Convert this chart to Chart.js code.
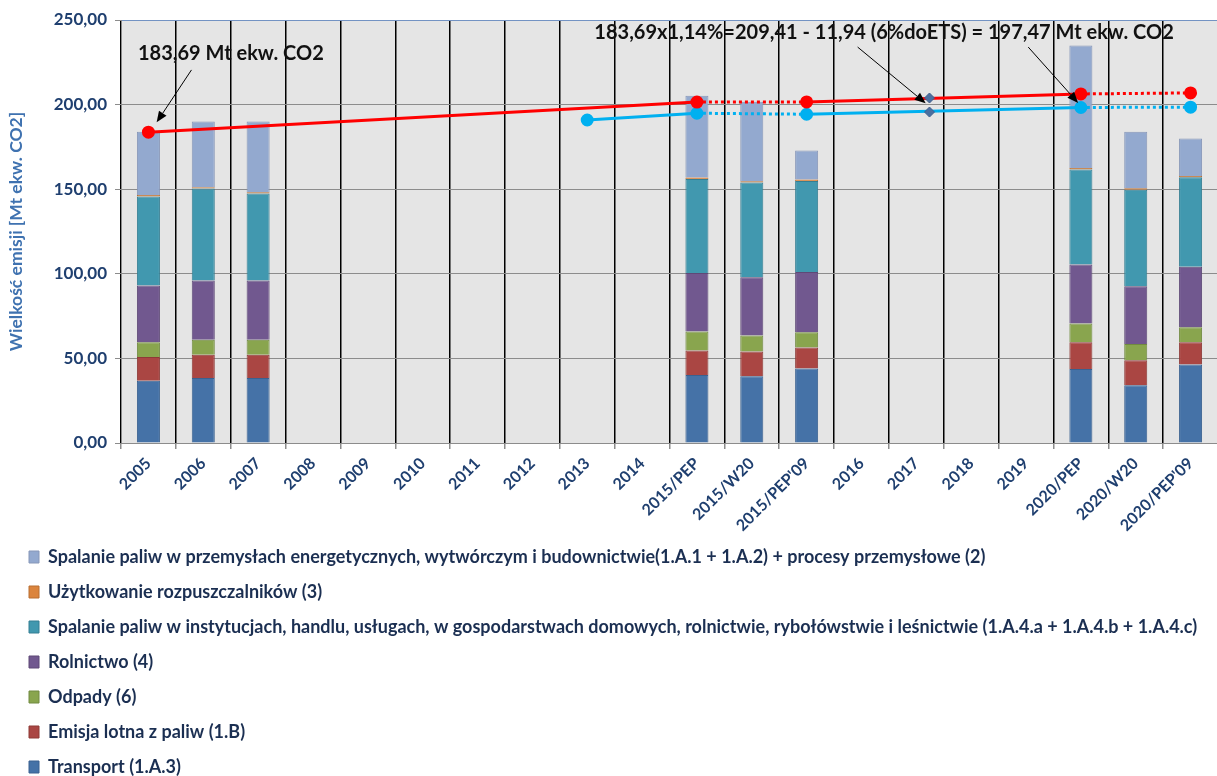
<!DOCTYPE html>
<html><head><meta charset="utf-8">
<script src="https://cdn.jsdelivr.net/npm/chart.js@4.4.1/dist/chart.umd.min.js"></script>
<style>
html,body{margin:0;padding:0;background:#fff;overflow:hidden;}
#wrap{position:relative;width:1217px;height:776px;overflow:hidden;}
#c1{position:absolute;left:0;top:0;}
#c2{position:absolute;left:12px;top:531px;}
</style></head><body>
<div id="wrap">
<canvas id="c1" width="1226" height="776"></canvas>
<canvas id="c2" width="2400" height="270"></canvas>
</div>
<script>
// ---- data ----
const categories = ['2005','2006','2007','2008','2009','2010','2011','2012','2013','2014',
  '2015/PEP','2015/W20',"2015/PEP'09",'2016','2017','2018','2019','2020/PEP','2020/W20',"2020/PEP'09"];
const transport = [36.8, 38.4, 38.4, null,null,null,null,null,null,null, 40.2, 39.4, 44.1, null,null,null,null, 43.8, 34.2, 46.4];
const emisjaLotna = [14.0, 13.8, 13.8, null,null,null,null,null,null,null, 14.5, 14.7, 12.4, null,null,null,null, 15.7, 14.7, 13.1];
const odpady = [8.8, 8.8, 8.8, null,null,null,null,null,null,null, 11.2, 9.5, 8.9, null,null,null,null, 11.2, 9.6, 8.9];
const rolnictwo = [33.5, 35.1, 35.1, null,null,null,null,null,null,null, 34.5, 34.4, 35.6, null,null,null,null, 34.8, 34.2, 35.7];
const spalanieInstytucje = [52.6, 54.3, 51.3, null,null,null,null,null,null,null, 55.7, 55.9, 53.9, null,null,null,null, 56.2, 57.0, 52.9];
const rozpuszczalniki = [0.8, 0.8, 0.8, null,null,null,null,null,null,null, 0.8, 0.8, 0.8, null,null,null,null, 0.8, 0.8, 0.8];
const spalanieEnergetyka = [37.5, 38.8, 41.8, null,null,null,null,null,null,null, 48.4, 47.0, 17.1, null,null,null,null, 72.5, 33.4, 22.2];
const limitRed = [183.69, null,null,null,null,null,null,null,null,null, 201.5, null, 201.6, null,null,null,null, 206.3, null, 206.9];
const limitBlue = [null,null,null,null,null,null,null,null, 190.9, null, 194.9, null, 194.3, null,null,null,null, 198.3, null, 198.5];
const marker2017Pos = 14.24;            // position on category index axis
const marker2017Vals = [203.9, 195.6];
const yTicks = [0, 50, 100, 150, 200, 250];

// ---- styling ----
const F = "Lato, 'Open Sans', sans-serif";
const layers = [
  {label:'Transport (1.A.3)', data:transport, color:'#4572a7', border:'#3a6190'},
  {label:'Emisja lotna z paliw (1.B)', data:emisjaLotna, color:'#aa4643', border:'#8e3a37'},
  {label:'Odpady (6)', data:odpady, color:'#89a54e', border:'#718a40'},
  {label:'Rolnictwo (4)', data:rolnictwo, color:'#71588f', border:'#5e4977'},
  {label:'Spalanie paliw w instytucjach, handlu, usługach, w gospodarstwach domowych, rolnictwie, rybołówstwie i leśnictwie (1.A.4.a + 1.A.4.b + 1.A.4.c)', data:spalanieInstytucje, color:'#4198af', border:'#357f93'},
  {label:'Użytkowanie rozpuszczalników (3)', data:rozpuszczalniki, color:'#db843d', border:'#b86e32'},
  {label:'Spalanie paliw w przemysłach energetycznych, wytwórczym i budownictwie(1.A.1 + 1.A.2) + procesy przemysłowe (2)', data:spalanieEnergetyka, color:'#93a9cf', border:'#8797b8'}
];
const fmt = v => v.toFixed(2).replace('.', ',');
const yearOf = i => categories[i].slice(0, 4);
const dottedWithinYear = { borderDash: ctx => yearOf(ctx.p0DataIndex) === yearOf(ctx.p1DataIndex) ? [3, 3] : undefined };

const notes = [
  {text:'183,69 Mt ekw. CO2', x:-0.19, y:229.9, arrows:[[[0.785,220.5],[0.15,189.5]]]},
  {text:'183,69x1,14%=209,41 - 11,94 (6%doETS) = 197,47 Mt ekw. CO2', x:8.13, y:242.3,
   arrows:[[[12.93,234.0],[14.17,200.8]], [[16.04,234.0],[16.95,201.0]]]}
];

const plotBg = {
  id:'plotBg',
  beforeDraw(chart){
    const {ctx, chartArea:a} = chart;
    ctx.save(); ctx.fillStyle = '#e5e5e5';
    ctx.fillRect(a.left, a.top, a.right - a.left, a.bottom - a.top);
    ctx.restore();
  }
};
const annotations = {
  id:'annotations',
  afterDatasetsDraw(chart){
    const {ctx} = chart; const xs = chart.scales.xm, ys = chart.scales.y;
    ctx.save();
    notes.forEach(n => {
      n.arrows.forEach(([f, t]) => {
        const x0 = xs.getPixelForValue(f[0]), y0 = ys.getPixelForValue(f[1]);
        const x1 = xs.getPixelForValue(t[0]), y1 = ys.getPixelForValue(t[1]);
        const ang = Math.atan2(y1 - y0, x1 - x0), L = 11, W = 4.5;
        const bx = x1 - L * Math.cos(ang), by = y1 - L * Math.sin(ang);
        ctx.strokeStyle = '#000'; ctx.lineWidth = 1;
        ctx.beginPath(); ctx.moveTo(x0, y0); ctx.lineTo(bx, by); ctx.stroke();
        ctx.fillStyle = '#000'; ctx.beginPath();
        ctx.moveTo(x1, y1);
        ctx.lineTo(bx + W * Math.sin(ang), by - W * Math.cos(ang));
        ctx.lineTo(bx - W * Math.sin(ang), by + W * Math.cos(ang));
        ctx.closePath(); ctx.fill();
      });
      ctx.font = 'bold 20px ' + F; ctx.fillStyle = '#111'; ctx.textBaseline = 'middle'; ctx.textAlign = 'left';
      ctx.fillText(n.text, xs.getPixelForValue(n.x), ys.getPixelForValue(n.y));
    });
    ctx.restore();
  }
};

const barSets = layers.map(l => ({
  type:'bar', label:l.label, data:l.data, backgroundColor:l.color, borderColor:l.border,
  borderWidth:1, categoryPercentage:1, barPercentage:0.42, grouped:false, stack:'emisje', order:1
}));
const lineSets = [
  {type:'line', label:'limit', data:limitRed, stack:'red', borderColor:'#ff0000', backgroundColor:'#ff0000',
   borderWidth:3, pointRadius:5, pointHoverRadius:5, spanGaps:true, segment:dottedWithinYear, order:-1},
  {type:'line', label:'limit2', data:limitBlue, stack:'blue', borderColor:'#00b0f0', backgroundColor:'#00b0f0',
   borderWidth:3, pointRadius:5, pointHoverRadius:5, spanGaps:true, segment:dottedWithinYear, order:-1},
  {type:'line', label:'2017', xAxisID:'xm', stack:'m', data:marker2017Vals.map(v => ({x:marker2017Pos, y:v})),
   showLine:false, pointStyle:'rectRot', pointRadius:5, backgroundColor:'#4a6fa0', borderColor:'#3f5f8c', borderWidth:1, order:-2}
];

new Chart(document.getElementById('c1'), {
  type:'bar',
  data:{labels:categories, datasets:[...barSets, ...lineSets]},
  plugins:[plotBg, annotations],
  options:{
    responsive:false, animation:false, devicePixelRatio:1,
    layout:{padding:{left:0, right:0, top:20, bottom:0}},
    plugins:{legend:{display:false}, tooltip:{enabled:false}},
    scales:{
      x:{stacked:true, offset:true,
         grid:{color:'#000', lineWidth:1.5, offset:true, tickLength:6, tickColor:'#8c8c8c'},
         border:{color:'#8c8c8c'},
         ticks:{autoSkip:false, maxRotation:45, minRotation:45, color:'#1f3f6f', padding:5,
                font:{family:F, size:16, weight:'bold'}},
         afterFit: s => { s.height = 333; }},
      xm:{type:'linear', display:false, offset:false, grid:{offset:false}, min:-0.5, max:19.5},
      y:{stacked:true, min:0, max:250,
         afterBuildTicks: s => { s.ticks = yTicks.map(v => ({value:v})); },
         ticks:{callback: v => fmt(v), color:'#1f3f6f', padding:8, font:{family:F, size:17, weight:'bold'}},
         grid:{color: c => (c.tick && c.tick.value === 250) ? '#7393c3' : '#8c8c8c', lineWidth:1, tickLength:6, tickColor:'#8c8c8c'},
         border:{color:'#8c8c8c'},
         title:{display:true, text:'Wielkość emisji [Mt ekw. CO2]', color:'#3f72b0', padding:{top:6, bottom:0},
                font:{family:F, size:17.5, weight:'bold'}},
         afterFit: s => { s.width = 121; }}
    }
  }
});

new Chart(document.getElementById('c2'), {
  type:'bar',
  data:{labels:[], datasets:layers.map(l => ({label:l.label, data:[], backgroundColor:l.color, borderColor:l.border, borderWidth:1}))},
  options:{
    responsive:false, animation:false, devicePixelRatio:1,
    layout:{padding:0},
    scales:{x:{display:false}, y:{display:false}},
    plugins:{
      tooltip:{enabled:false},
      legend:{position:'left', align:'start', reverse:true,
        labels:{boxWidth:10, boxHeight:12, padding:17, color:'#1b2f52', font:{family:F, size:18, weight:'bold'}}}
    }
  }
});
</script>
</body></html>
